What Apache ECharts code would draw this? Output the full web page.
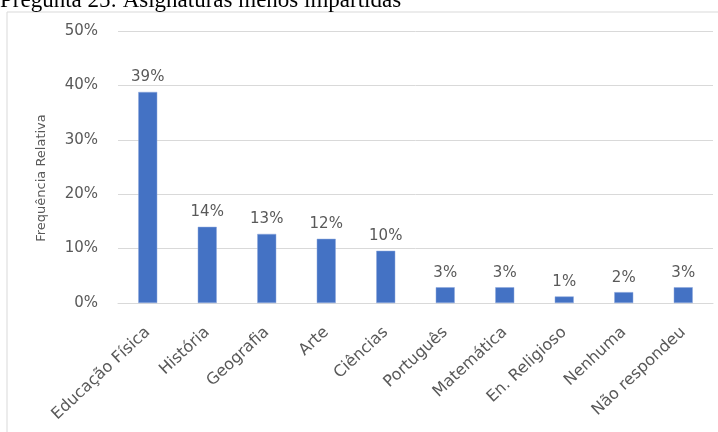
<!DOCTYPE html>
<html>
<head>
<meta charset="utf-8">
<title>Pregunta 25</title>
<script src="https://cdn.jsdelivr.net/npm/echarts@6/dist/echarts.min.js"></script>
<style>
  html, body { margin: 0; padding: 0; background: #ffffff; }
  #chart { width: 718px; height: 432px; }
</style>
</head>
<body>
<div id="chart"></div>
<script>
// Subjects and their relative frequency (%)
const categories = ['Educação Física', 'História', 'Geografia', 'Arte', 'Ciências',
  'Português', 'Matemática', 'En. Religioso', 'Nenhuma', 'Não respondeu'];
const frequencies = [38.8, 14.0, 12.7, 11.8, 9.6, 2.9, 2.9, 1.2, 2.0, 2.9];
const yTicks = [0, 10, 20, 30, 40, 50];

const titleText = 'Pregunta 25: Asignaturas menos impartidas';
const yAxisTitle = 'Frequência Relativa';

const textGray = '#595959';
const gridGray = '#d9d9d9';
const barBlue = '#4472C4';
const uiFont = 'DejaVu Sans';

const chart = echarts.init(document.getElementById('chart'), null, { renderer: 'canvas' });

chart.setOption({
  animation: false,
  backgroundColor: '#ffffff',
  grid: { left: 118, right: 5, top: 31, bottom: 129, containLabel: false },
  graphic: [
    {
      type: 'rect',
      shape: { x: 7, y: 12, width: 730, height: 440 },
      style: { fill: 'none', stroke: gridGray, lineWidth: 1 },
      silent: true
    },
    {
      type: 'text',
      x: 0, y: 1,
      style: {
        text: titleText,
        font: '23px "Liberation Serif", "Times New Roman", serif',
        fill: '#000000',
        textAlign: 'left',
        textVerticalAlign: 'middle'
      }
    },
    {
      type: 'text',
      x: 42, y: 178,
      rotation: Math.PI / 2,
      style: {
        text: yAxisTitle,
        font: '13px "' + uiFont + '"',
        fill: textGray,
        textAlign: 'center',
        textVerticalAlign: 'middle'
      }
    }
  ],
  xAxis: {
    type: 'category',
    data: categories,
    axisLine: { show: true, lineStyle: { color: gridGray, width: 1 } },
    axisTick: { show: false },
    axisLabel: {
      interval: 0,
      rotate: 43,
      margin: 27,
      color: textGray,
      fontFamily: uiFont,
      fontSize: 16
    }
  },
  yAxis: {
    type: 'value',
    min: yTicks[0],
    max: yTicks[yTicks.length - 1],
    interval: 10,
    axisLine: { show: false },
    axisTick: { show: false },
    splitLine: { lineStyle: { color: gridGray, width: 1 } },
    axisLabel: {
      margin: 20,
      color: textGray,
      fontFamily: uiFont,
      fontSize: 15,
      formatter: v => v + '%'
    }
  },
  series: [{
    type: 'bar',
    data: frequencies,
    barWidth: 19,
    itemStyle: { color: barBlue, borderColor: '#8fa9dc', borderWidth: 0.5 },
    label: {
      show: true,
      position: 'top',
      distance: 7,
      color: textGray,
      fontFamily: uiFont,
      fontSize: 15,
      formatter: p => Math.round(p.value) + '%'
    }
  }]
});
</script>
</body>
</html>
